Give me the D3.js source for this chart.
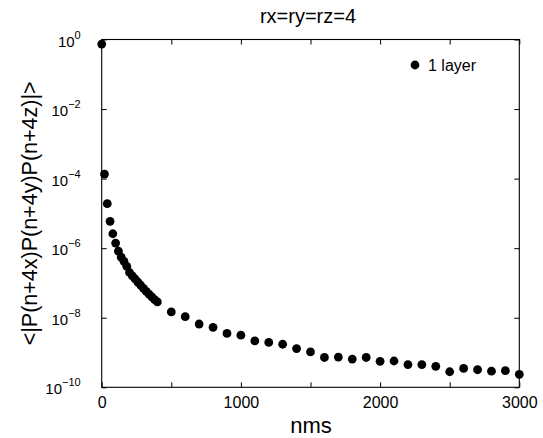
<!DOCTYPE html>
<html><head><meta charset="utf-8">
<script src="https://cdn.jsdelivr.net/npm/d3@7"></script>
<style>body{margin:0;background:#fff}text{font-family:"Liberation Sans",Arial,sans-serif}</style>
</head><body><svg id="c" width="543" height="438"></svg>
<script>
const nms = [0,20,40,60,80,100,120,140,160,180,200,220,240,260,280,300,320,340,360,380,400,
  500,600,700,800,900,1000,1100,1200,1300,1400,1500,1600,1700,1800,1900,2000,2100,2200,2300,2400,2500,2600,2700,2800,2900,3000];
const corr = [0.74,1.35e-4,1.9e-5,5.9e-6,2.6e-6,1.4e-6,8.2e-7,5.5e-7,4.2e-7,3.0e-7,2.0e-7,1.6e-7,1.3e-7,1.05e-7,8.6e-8,7.0e-8,5.7e-8,4.8e-8,4.0e-8,3.3e-8,2.85e-8,
  1.47e-8,1.07e-8,6.6e-9,5.3e-9,3.55e-9,3.15e-9,2.15e-9,1.95e-9,1.73e-9,1.3e-9,1.04e-9,7.2e-10,7.4e-10,6.5e-10,7.2e-10,5.6e-10,5.7e-10,4.5e-10,4.5e-10,4.0e-10,2.8e-10,3.5e-10,3.2e-10,2.9e-10,3.0e-10,2.36e-10];
const xTicks = [0,500,1000,1500,2000,2500,3000];
const xLabels = [0,1000,2000,3000];
const yExps = [0,-2,-4,-6,-8,-10];
const title = "rx=ry=rz=4";
const xTitle = "nms";
const yTitle = "<|P(n+4x)P(n+4y)P(n+4z)|>";
const legendLabel = "1 layer";

const L=101.7,R=519.3,T=39.5,B=387.3;
const svg=d3.select("#c");
const x=d3.scaleLinear().domain([0,3000]).range([L,R]);
const y=d3.scaleLog().domain([1e-10,1]).range([B,T]);

svg.append("rect").attr("x",L).attr("y",T).attr("width",R-L).attr("height",B-T)
  .attr("fill","none").attr("stroke","#000").attr("stroke-width",1.1);

const tl=5;
const xa=d3.axisBottom(x).tickValues(xTicks).tickSize(-tl).tickFormat(d=>xLabels.includes(d)?d:"");
svg.append("g").attr("transform",`translate(0,${B})`).call(xa).call(g=>{
  g.select(".domain").remove();
  g.selectAll("text").attr("dy",0).attr("y",21).attr("font-size",16).attr("fill","#000").style("font-family","Liberation Sans, Arial, sans-serif");
});
svg.append("g").attr("transform",`translate(0,${T})`).call(d3.axisTop(x).tickValues(xTicks).tickSize(-tl).tickFormat("")).call(g=>g.select(".domain").remove());

const yVals=yExps.map(e=>Math.pow(10,e));
svg.append("g").attr("transform",`translate(${L},0)`).call(d3.axisLeft(y).tickValues(yVals).tickSize(-tl).tickFormat("")).call(g=>g.select(".domain").remove());
svg.append("g").attr("transform",`translate(${R},0)`).call(d3.axisRight(y).tickValues(yVals).tickSize(-tl).tickFormat("")).call(g=>g.select(".domain").remove());
svg.selectAll(".tick line").attr("stroke","#000");

yExps.forEach(e=>{
  const t=svg.append("text").attr("x",L-21).attr("y",y(Math.pow(10,e))+7)
    .attr("text-anchor","end").attr("font-size",15).attr("fill","#000");
  t.append("tspan").text("10");
  t.append("tspan").attr("dy",-8).attr("font-size",11).text(e===0?"0":"\u2212"+(-e));
});

svg.append("g").selectAll("circle").data(nms).join("circle")
  .attr("cx",d=>x(d)).attr("cy",(d,i)=>y(corr[i])).attr("r",4.4).attr("fill","#000");

svg.append("text").attr("x",308).attr("y",23).attr("text-anchor","middle").attr("font-size",20).text(title);
svg.append("text").attr("x",311).attr("y",433).attr("text-anchor","middle").attr("font-size",22).text(xTitle);
svg.append("text").attr("transform",`translate(37,${(T+B)/2}) rotate(-90)`).attr("text-anchor","middle").attr("font-size",21.5).text(yTitle);

svg.append("circle").attr("cx",415).attr("cy",65).attr("r",4.4).attr("fill","#000");
svg.append("text").attr("x",428).attr("y",71).attr("font-size",16).text(legendLabel);
</script></body></html>
